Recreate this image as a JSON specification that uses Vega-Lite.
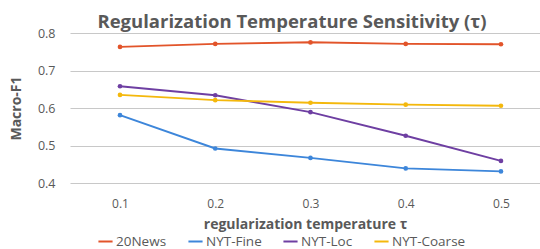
{
  "$schema": "https://vega.github.io/schema/vega-lite/v6.json",
  "width": 470,
  "height": 150,
  "autosize": {"type": "none"},
  "padding": {"left": 70, "top": 33, "right": 0, "bottom": 66},
  "background": "white",
  "title": {
    "text": "Regularization Temperature Sensitivity (τ)",
    "font": "Open Sans",
    "fontSize": 18.5,
    "fontWeight": "bold",
    "color": "#595959",
    "anchor": "middle",
    "offset": 6,
    "dx": -13,
    "dy": 10
  },
  "data": {
    "values": [
      {"tau": 0.1, "dataset": "20News", "f1": 0.763},
      {"tau": 0.2, "dataset": "20News", "f1": 0.771},
      {"tau": 0.3, "dataset": "20News", "f1": 0.775},
      {"tau": 0.4, "dataset": "20News", "f1": 0.771},
      {"tau": 0.5, "dataset": "20News", "f1": 0.770},
      {"tau": 0.1, "dataset": "NYT-Fine", "f1": 0.581},
      {"tau": 0.2, "dataset": "NYT-Fine", "f1": 0.492},
      {"tau": 0.3, "dataset": "NYT-Fine", "f1": 0.467},
      {"tau": 0.4, "dataset": "NYT-Fine", "f1": 0.439},
      {"tau": 0.5, "dataset": "NYT-Fine", "f1": 0.431},
      {"tau": 0.1, "dataset": "NYT-Loc", "f1": 0.658},
      {"tau": 0.2, "dataset": "NYT-Loc", "f1": 0.634},
      {"tau": 0.3, "dataset": "NYT-Loc", "f1": 0.589},
      {"tau": 0.4, "dataset": "NYT-Loc", "f1": 0.526},
      {"tau": 0.5, "dataset": "NYT-Loc", "f1": 0.459},
      {"tau": 0.1, "dataset": "NYT-Coarse", "f1": 0.635},
      {"tau": 0.2, "dataset": "NYT-Coarse", "f1": 0.621},
      {"tau": 0.3, "dataset": "NYT-Coarse", "f1": 0.614},
      {"tau": 0.4, "dataset": "NYT-Coarse", "f1": 0.609},
      {"tau": 0.5, "dataset": "NYT-Coarse", "f1": 0.606}
    ]
  },
  "mark": {"type": "line", "strokeWidth": 2, "point": {"size": 22, "filled": true}},
  "encoding": {
    "x": {
      "field": "tau",
      "type": "quantitative",
      "scale": {"domain": [0.0475, 0.541], "nice": false, "zero": false},
      "axis": {
        "values": [0.1, 0.2, 0.3, 0.4, 0.5],
        "format": ".1f",
        "grid": false,
        "domain": false,
        "ticks": false,
        "labelPadding": 15,
        "labelFont": "Open Sans",
        "labelFontSize": 12,
        "labelColor": "#595959",
        "title": "regularization temperature τ",
        "titleFont": "Open Sans",
        "titleFontSize": 14,
        "titleFontWeight": "bold",
        "titleColor": "#595959",
        "titlePadding": 8
      }
    },
    "y": {
      "field": "f1",
      "type": "quantitative",
      "scale": {"domain": [0.4, 0.8], "nice": false, "zero": false},
      "axis": {
        "values": [0.4, 0.5, 0.6, 0.7, 0.8],
        "format": ".1f",
        "domain": false,
        "ticks": false,
        "gridColor": "#c8c8c8",
        "gridWidth": 1.2,
        "labelPadding": 15,
        "labelFont": "Open Sans",
        "labelFontSize": 12.5,
        "labelColor": "#595959",
        "title": "Macro-F1",
        "titleFont": "Open Sans",
        "titleFontSize": 14,
        "titleFontWeight": "bold",
        "titleColor": "#595959",
        "titlePadding": 14
      }
    },
    "color": {
      "field": "dataset",
      "type": "nominal",
      "sort": ["20News", "NYT-Fine", "NYT-Loc", "NYT-Coarse"],
      "scale": {
        "domain": ["20News", "NYT-Fine", "NYT-Loc", "NYT-Coarse"],
        "range": ["#E2542A", "#3D86DA", "#6E3FA2", "#F4B80C"]
      },
      "legend": {
        "orient": "none",
        "legendX": 27,
        "legendY": 200,
        "direction": "horizontal",
        "title": null,
        "symbolType": "stroke",
        "symbolSize": 200,
        "symbolStrokeWidth": 2,
        "labelFont": "Open Sans",
        "labelFontSize": 13.5,
        "labelColor": "#595959",
        "labelOffset": 2,
        "columnPadding": 17
      }
    }
  },
  "config": {"view": {"stroke": null}}
}
